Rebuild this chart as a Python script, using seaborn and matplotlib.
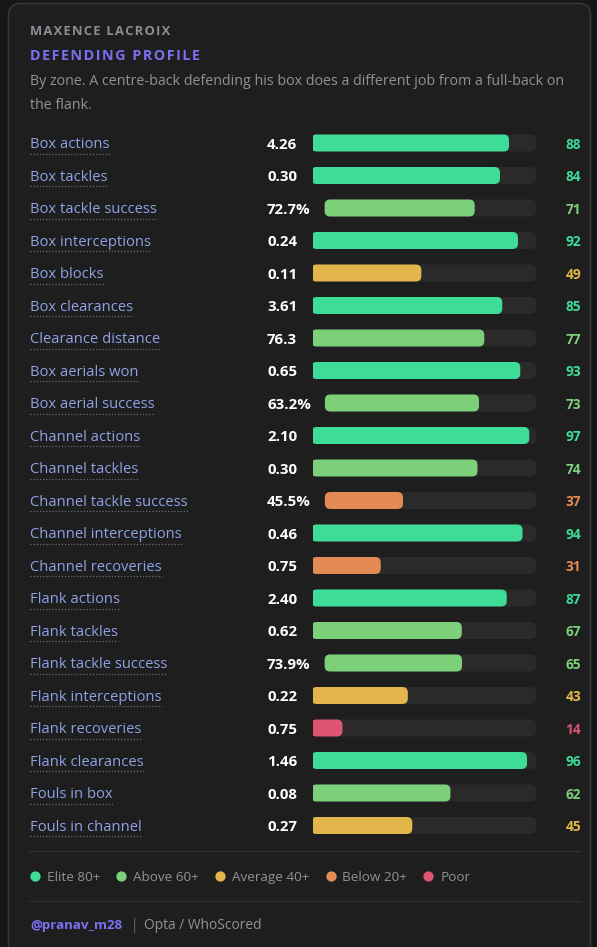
import matplotlib
matplotlib.use("Agg")
import matplotlib.pyplot as plt
import numpy as np
import pandas as pd
import seaborn as sns
from matplotlib.patches import FancyBboxPatch

# ---------------- data ----------------
player = "MAXENCE LACROIX"
title = "DEFENDING PROFILE"
subtitle_lines = ["By zone. A centre-back defending his box does a different job from a full-back on",
                  "the flank."]

metrics = ["Box actions", "Box tackles", "Box tackle success", "Box interceptions", "Box blocks",
           "Box clearances", "Clearance distance", "Box aerials won", "Box aerial success",
           "Channel actions", "Channel tackles", "Channel tackle success", "Channel interceptions",
           "Channel recoveries", "Flank actions", "Flank tackles", "Flank tackle success",
           "Flank interceptions", "Flank recoveries", "Flank clearances", "Fouls in box",
           "Fouls in channel"]
values = ["4.26", "0.30", "72.7%", "0.24", "0.11", "3.61", "76.3", "0.65", "63.2%", "2.10",
          "0.30", "45.5%", "0.46", "0.75", "2.40", "0.62", "73.9%", "0.22", "0.75", "1.46",
          "0.08", "0.27"]
percentiles = [88, 84, 71, 92, 49, 85, 77, 93, 73, 97, 74, 37, 94, 31, 87, 67, 65, 43, 14, 96, 62, 45]

tier_names = ["Elite 80+", "Above 60+", "Average 40+", "Below 20+", "Poor"]
tier_floors = [80, 60, 40, 20, 0]
tier_colors = ["#3ddc97", "#7dd07a", "#e2b64b", "#e38a55", "#dc5470"]

footer_handle = "@pranav_m28"
footer_source = "Opta / WhoScored"

# ---------------- style ----------------
FONT = ["Open Sans", "DejaVu Sans"]
sns.set_theme(style="dark")
plt.rcParams["font.family"] = FONT

BG_OUT = "#161616"
CARD = "#1e1e1e"
TRACK = "#2a2a2a"
LABEL_C = "#8fa2e6"
GREY = "#8e9399"
PURPLE = "#7b6ff2"

W, H = 597, 947
fig = plt.figure(figsize=(W / 100, H / 100), dpi=100)
fig.patch.set_facecolor(BG_OUT)
ax = fig.add_axes([0, 0, 1, 1])
ax.set_xlim(0, W)
ax.set_ylim(H, 0)
ax.axis("off")
ax.set_facecolor("none")

ax.add_patch(FancyBboxPatch((8.5, 3.5), 582, 980, boxstyle="round,pad=0,rounding_size=12",
                            fc=CARD, ec="#383838", lw=1.2, zorder=0))

renderer = fig.canvas.get_renderer()


def text_w(s, size, weight="normal"):
    fp = matplotlib.font_manager.FontProperties(family=FONT, size=size, weight=weight)
    w, h, d = renderer.get_text_width_height_descent(s, fp, ismath=False)
    return w


# ---------------- header ----------------
HAIR = "\u200a"
ax.text(30, 31, HAIR.join(player), fontsize=9.4, fontweight="bold", color="#8a8e94",
        va="center", ha="left")
ax.text(30, 56, HAIR.join(title), fontsize=10.4, fontweight="bold", color=PURPLE,
        va="center", ha="left")
for i, line in enumerate(subtitle_lines):
    ax.text(30, 81 + 24 * i, line, fontsize=10.3, color=GREY, va="center", ha="left")

# ---------------- rows ----------------
ROW0, STEP = 143, 32.5
n = len(metrics)
TX0, TX1 = 313, 536
BAR_H = 17
TY = 1.5

df = pd.DataFrame({"metric": metrics, "pct": percentiles})
df["tier"] = [next(t for t, f in zip(tier_names, tier_floors) if p >= f) for p in percentiles]

top = ROW0 - STEP / 2
bax = fig.add_axes([TX0 / W, 1 - (top + n * STEP) / H, (TX1 - TX0) / W, n * STEP / H])
sns.barplot(data=df, y="metric", x="pct", hue="tier", hue_order=tier_names,
            palette=dict(zip(tier_names, tier_colors)), dodge=False, width=BAR_H / STEP,
            saturation=1, orient="h", legend=False, ax=bax)
bax.set_xlim(0, 100)
bax.set_ylim(n - 0.5, -0.5)
bax.axis("off")
bax.set_facecolor("none")

px_per_x = (TX1 - TX0) / 100.0
px_per_y = STEP
radius_px = 5.5
asp = (1 / px_per_y) / (1 / px_per_x)

starts = []
for i, (m, v) in enumerate(zip(metrics, values)):
    y = ROW0 + STEP * i
    ax.text(30, y + TY, m, fontsize=10.6, color=LABEL_C, va="center", ha="left")
    lw_ = text_w(m, 10.6)
    ax.plot([30, 30 + lw_], [y + 10.5, y + 10.5], color="#686c76", lw=0.9, ls=(0, (1, 1.5)))
    ax.text(267, y + TY, v, fontsize=10.8, fontweight="bold", color="white", va="center", ha="left")
    vw = text_w(v, 10.8, "bold")
    starts.append(267 + vw + 14)

rects = list(bax.patches)
for r in rects:
    yc = r.get_y() + r.get_height() / 2
    row = int(round(yc))
    if row < 0 or row >= n or r.get_width() <= 0:
        r.remove()
        continue
    x0 = (starts[row] - TX0) / px_per_x
    span = 100 - x0
    w = r.get_width() / 100 * span
    color = r.get_facecolor()
    y0, h = r.get_y(), r.get_height()
    r.remove()
    rs = radius_px / px_per_x
    bax.add_patch(FancyBboxPatch((x0, y0), span, h, boxstyle=f"round,pad=0,rounding_size={rs}",
                                 mutation_aspect=asp, fc=TRACK, ec="none", zorder=1))
    bax.add_patch(FancyBboxPatch((x0, y0), w, h, boxstyle=f"round,pad=0,rounding_size={rs}",
                                 mutation_aspect=asp, fc=color, ec="none", zorder=2))
    ax.text(581, ROW0 + STEP * row + TY, str(percentiles[row]), fontsize=9.8, fontweight="bold",
            color=color, va="center", ha="right")

# ---------------- legend ----------------
ax.plot([29, 581], [851, 851], color="#2e2e2e", lw=1)
ax.plot([29, 581], [901, 901], color="#2e2e2e", lw=1)
x = 35
for name, col in zip(tier_names, tier_colors):
    ax.scatter([x], [876], s=55, color=col, zorder=3, linewidths=0)
    ax.text(x + 12, 877.5, name, fontsize=9.7, color=GREY, va="center", ha="left")
    x += 12 + text_w(name, 9.7) + 21

# ---------------- footer ----------------
ax.text(30, 925, footer_handle, fontsize=9.6, fontweight="bold", color=PURPLE, va="center", ha="left")
fx = 30 + text_w(footer_handle, 9.6, "bold") + 9
ax.text(fx, 925, "|", fontsize=9.8, color="#6a6e74", va="center", ha="left")
ax.text(fx + 13, 925, footer_source, fontsize=9.9, color=GREY, va="center", ha="left")

fig.savefig("out.png", dpi=100, facecolor=fig.get_facecolor())
